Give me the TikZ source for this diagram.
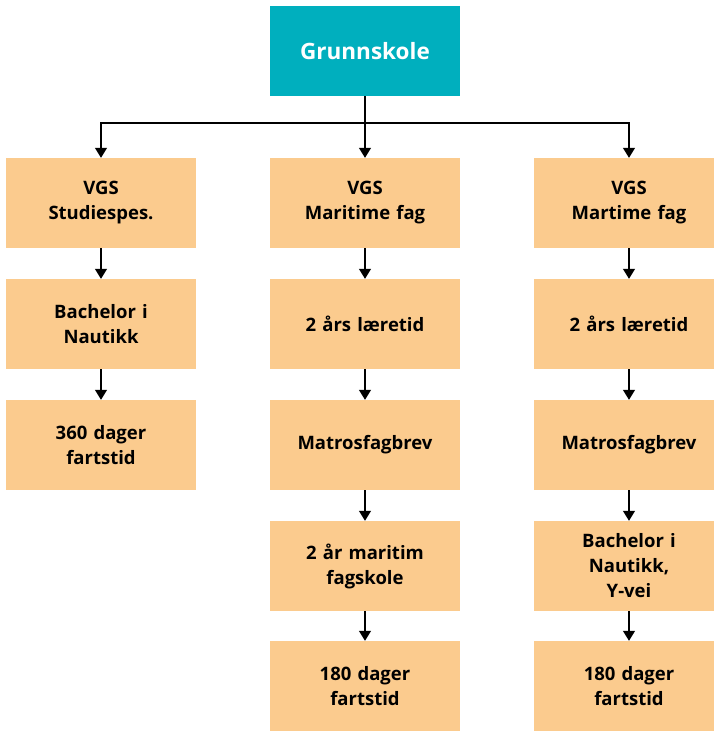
\documentclass[tikz,border=0pt]{standalone}
\usepackage{fontspec}
\setmainfont{Open Sans}
\usepackage{tikz}
\usetikzlibrary{arrows.meta}

\definecolor{tealbox}{HTML}{00AFBE}
\definecolor{orangebox}{HTML}{FBCB8E}

\begin{document}
\begin{tikzpicture}[x=1pt,y=-1pt]
        \tikzset{box/.style={fill=orangebox, minimum width=190pt, minimum height=90pt,
                text width=180pt, align=center, inner sep=0pt,
                font=\fontsize{18.5}{25}\selectfont\bfseries}};
        \tikzset{topbox/.style={box, fill=tealbox, text=white,
                font=\fontsize{22.5}{26}\selectfont\bfseries}};
        \tikzset{line/.style={line width=1.2pt}};
        \tikzset{arr/.style={line, -{Triangle[width=12pt,length=10pt]}}};

        \useasboundingbox (0,0) rectangle (713,731);

        % top
        \node[topbox] (grunn) at (365,51) {Grunnskole};
        \coordinate (bus) at (365,123);

        % left column
        \node[box] (vgsA) at (101,203) {VGS\\Studiespes.};
        \node[box] (bachA) at (101,324) {Bachelor i\\Nautikk};
        \node[box] (fartA) at (101,445) {360 dager\\fartstid};

        % middle column
        \node[box] (vgsB) at (365,203) {VGS\\Maritime fag};
        \node[box] (laerB) at (365,324) {2 års læretid};
        \node[box] (matB) at (365,445) {Matrosfagbrev};
        \node[box] (skolB) at (365,566) {2 år maritim\\fagskole};
        \node[box] (fartB) at (365,686) {180 dager\\fartstid};

        % right column
        \node[box] (vgsC) at (629,203) {VGS\\Martime fag};
        \node[box] (laerC) at (629,324) {2 års læretid};
        \node[box] (matC) at (629,445) {Matrosfagbrev};
        \node[box] (bachC) at (629,566) {Bachelor i\\Nautikk,\\Y-vei};
        \node[box] (fartC) at (629,686) {180 dager\\fartstid};

        % connectors
        \draw[arr] (grunn) -- (vgsB);
        \draw[arr] (bus) -| (vgsA);
        \draw[arr] (bus) -| (vgsC);

        \draw[arr] (vgsA) -- (bachA);
        \draw[arr] (bachA) -- (fartA);

        \draw[arr] (vgsB) -- (laerB);
        \draw[arr] (laerB) -- (matB);
        \draw[arr] (matB) -- (skolB);
        \draw[arr] (skolB) -- (fartB);

        \draw[arr] (vgsC) -- (laerC);
        \draw[arr] (laerC) -- (matC);
        \draw[arr] (matC) -- (bachC);
        \draw[arr] (bachC) -- (fartC);
    \end{tikzpicture}
\end{document}
